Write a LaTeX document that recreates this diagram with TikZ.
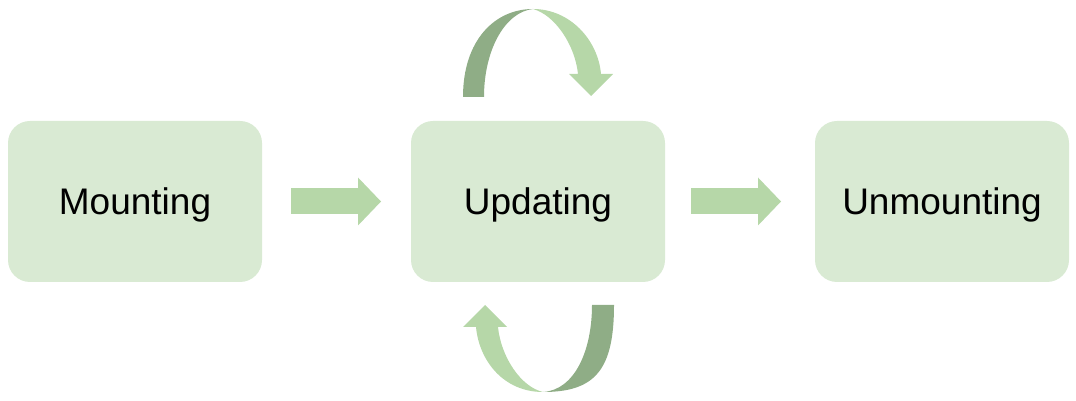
\documentclass[tikz,border=0pt]{standalone}
\usepackage{fontspec}
\setmainfont{Liberation Sans}
\usetikzlibrary{arrows.meta,positioning,calc}
\definecolor{stagefill}{HTML}{D9EAD3}
\definecolor{leaf}{HTML}{B6D7A8}
\definecolor{darkleaf}{HTML}{8FAD86}

\begin{document}
\begin{tikzpicture}[x=1pt, y=1pt, font=\fontsize{37}{44}\selectfont]
  \tikzstyle{stage}=[fill=stagefill, rounded corners=22pt, minimum width=254pt, minimum height=161pt, inner sep=0pt, outer sep=0pt, text depth=0pt]
  \tikzstyle{flow}=[draw=leaf, line width=26pt, -{Triangle[length=23pt, width=48pt, line width=0pt]}]
  \useasboundingbox (0,0) rectangle (1076,401);

  \node[stage] (mount) at (135,199.5) {Mounting};
  \node[stage, right=149pt of mount] (upd) {Updating};
  \node[stage, right=150pt of upd] (unmount) {Unmounting};
  \draw[flow] ([xshift=29pt]mount.east) -- ([xshift=-30pt]upd.west);
  \draw[flow] ([xshift=26pt]upd.east) -- ([xshift=-34pt]unmount.west);

  \coordinate (topc) at ([shift={(-5,104.5)}]upd.center);
  \coordinate (botc) at ([shift={(5,-103.5)}]upd.center);
  \begin{scope}[shift={(topc)}]
    \fill[darkleaf] (-70,0) .. controls (-70,57) and (-38,88) .. (0,88)
      .. controls (-28,85) and (-49,47) .. (-49,0) -- cycle;
    \fill[leaf] (0,88) .. controls (37,88) and (65,57) .. (68,23)
      -- (80,23) -- (58,1) -- (36,23) -- (45,23)
      .. controls (42,52) and (22,82) .. (0,88) -- cycle;
  \end{scope}
  \begin{scope}[shift={(botc)}]
    \fill[darkleaf] (71,0) .. controls (71,-65) and (52,-87) .. (0,-87)
      .. controls (32,-85) and (49,-45) .. (49,0) -- cycle;
    \fill[leaf] (0,-87) .. controls (-40,-87) and (-64,-55) .. (-67,-22)
      -- (-80,-22) -- (-58,0) -- (-36,-22) -- (-45,-22)
      .. controls (-42,-52) and (-22,-82) .. (0,-87) -- cycle;
  \end{scope}
\end{tikzpicture}
\end{document}
